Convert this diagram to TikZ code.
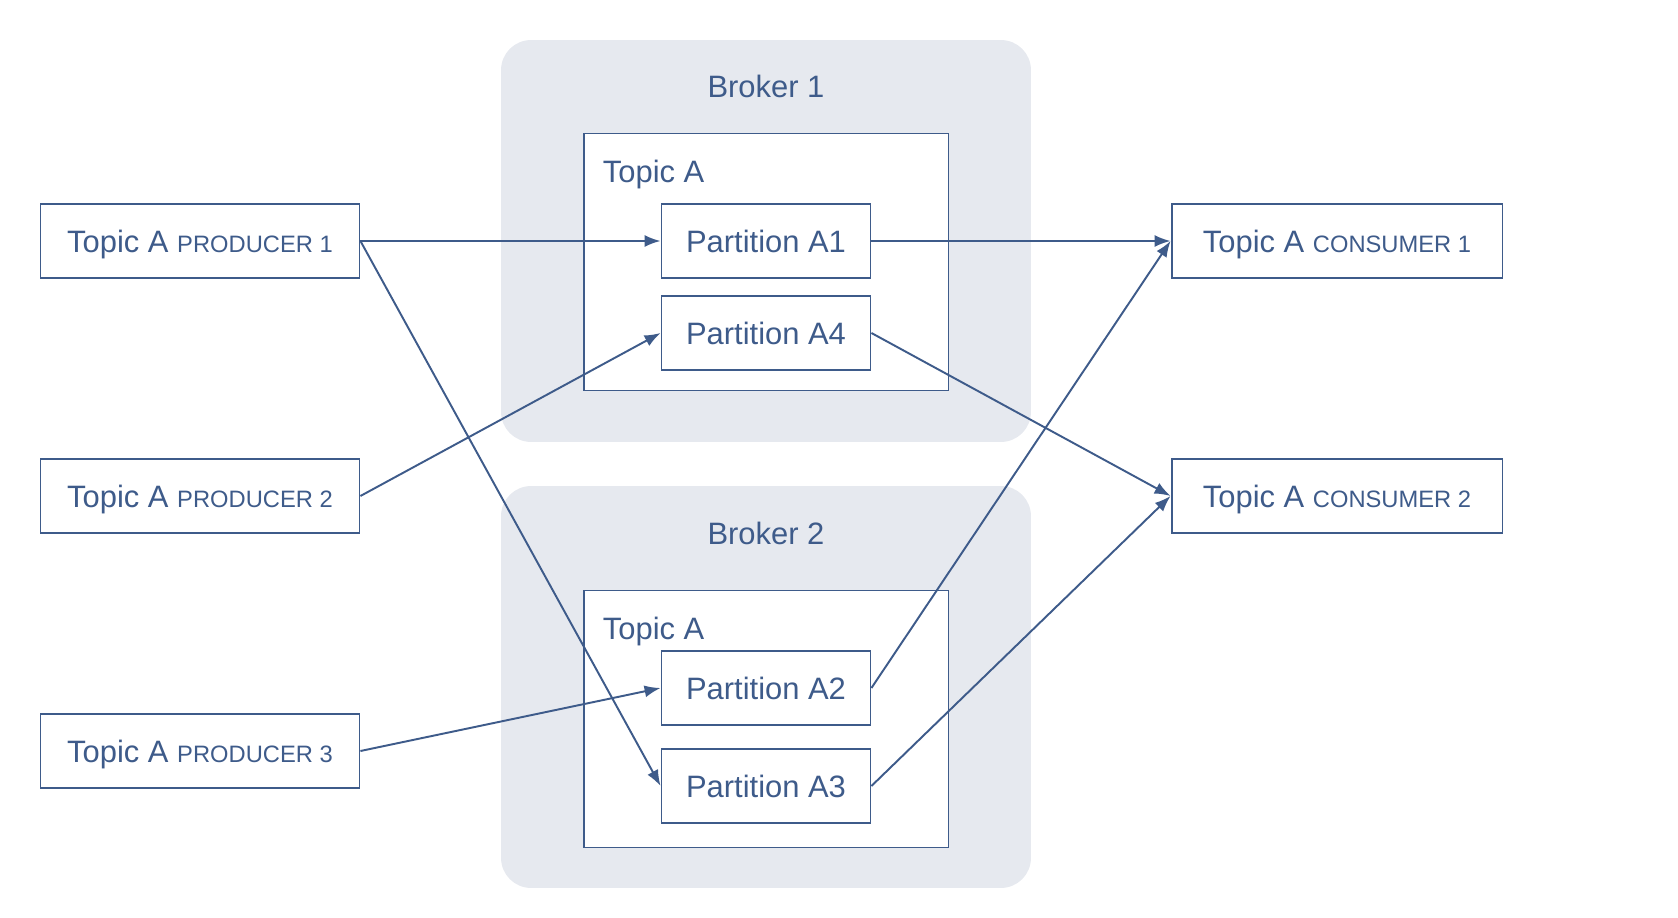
\documentclass[tikz,border=0pt]{standalone}
\usepackage{fontspec}
\setmainfont{Liberation Sans}
\usetikzlibrary{arrows.meta}

\definecolor{kblue}{HTML}{3E5B8A}
\definecolor{kgrey}{HTML}{E6E9EF}
\newcommand{\roletxt}[1]{{\fontsize{13.5}{16}\selectfont #1}}

\begin{document}
\begin{tikzpicture}[x=0.02cm,y=-0.02cm,
  box/.style={draw=kblue,fill=white,line width=1.1pt,minimum height=1.48cm,inner sep=0pt,
    text=kblue,font=\fontsize{17.6}{21}\selectfont,text height=12.6pt,text depth=0pt},
  prodbox/.style={box,minimum width=6.38cm},
  consbox/.style={box,minimum width=6.62cm},
  partbox/.style={box,minimum width=4.18cm},
  topicbox/.style={box,minimum width=7.3cm,minimum height=5.14cm},
  brokerbox/.style={fill=kgrey,rounded corners=0.6cm,minimum width=10.6cm,minimum height=8.04cm,inner sep=0pt},
  lbl/.style={text=kblue,font=\fontsize{17.6}{21}\selectfont,inner sep=0pt,text height=12.6pt,text depth=0pt},
  flow/.style={draw=kblue,line width=1.1pt,-{Latex[length=0.32cm,width=0.24cm]}}]
        \useasboundingbox (0,0) rectangle (1678,918);

        % brokers
        \node[brokerbox] (broker1) at (766,241) {};
        \node[brokerbox] (broker2) at (766,687) {};
        \node[lbl] (b1lbl) at (766,86) {Broker 1};
        \node[lbl] (b2lbl) at (766,533) {Broker 2};

        % topics
        \node[topicbox] (topic1) at (766,262) {};
        \node[topicbox] (topic2) at (766,719) {};
        \node[lbl,anchor=west] (t1lbl) at ([xshift=0.4cm,yshift=-0.78cm]topic1.north west) {Topic A};
        \node[lbl,anchor=west] (t2lbl) at ([xshift=0.4cm,yshift=-0.78cm]topic2.north west) {Topic A};

        % partitions
        \node[partbox] (a1) at (766,241) {Partition A1};
        \node[partbox] (a4) at (766,333) {Partition A4};
        \node[partbox] (a2) at (766,688) {Partition A2};
        \node[partbox] (a3) at (766,786) {Partition A3};

        % producers and consumers
        \node[prodbox] (p1) at (200,241) {Topic A \roletxt{PRODUCER 1}};
        \node[prodbox] (p2) at (200,496) {Topic A \roletxt{PRODUCER 2}};
        \node[prodbox] (p3) at (200,751) {Topic A \roletxt{PRODUCER 3}};
        \node[consbox] (c1) at (1337,241) {Topic A \roletxt{CONSUMER 1}};
        \node[consbox] (c2) at (1337,496) {Topic A \roletxt{CONSUMER 2}};

        % flows
        \draw[flow] (p1.east) -- (a1.west);
        \draw[flow] (p1.east) -- (a3.west);
        \draw[flow] (p2.east) -- (a4.west);
        \draw[flow] (p3.east) -- (a2.west);
        \draw[flow] (a1.east) -- (c1.west);
        \draw[flow] (a2.east) -- (c1.west);
        \draw[flow] (a4.east) -- (c2.west);
        \draw[flow] (a3.east) -- (c2.west);
\end{tikzpicture}
\end{document}
